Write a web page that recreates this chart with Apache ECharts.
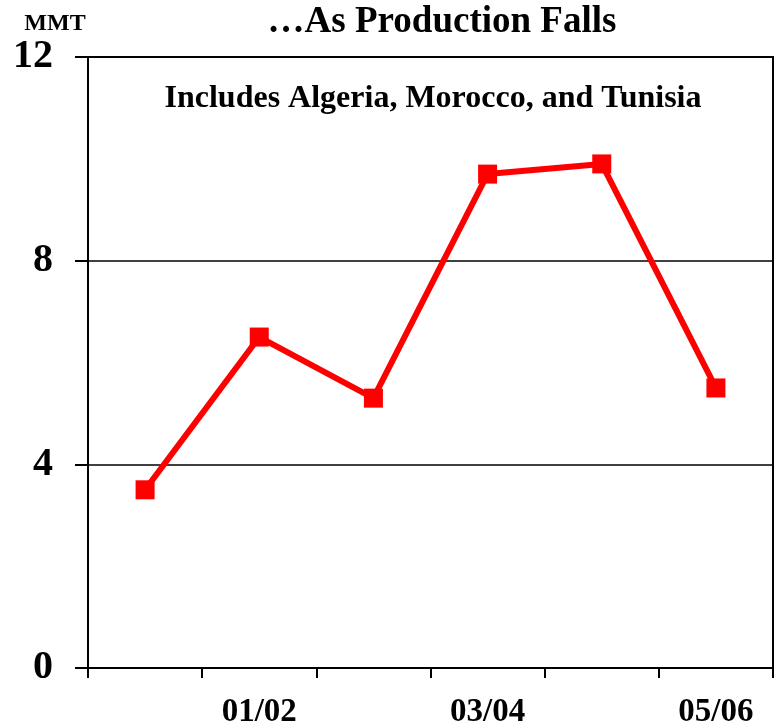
<!DOCTYPE html>
<html>
<head>
<meta charset="utf-8">
<script src="https://cdn.jsdelivr.net/npm/echarts@6/dist/echarts.min.js"></script>
<style>html,body{margin:0;padding:0;background:#fff}#c{width:777px;height:723px}</style>
</head>
<body>
<div id="c"></div>
<script>
var categories = ['00/01', '01/02', '02/03', '03/04', '04/05', '05/06'];
var production = [3.5, 6.5, 5.3, 9.7, 9.9, 5.5];
var yTicks = [0, 4, 8, 12];
var titleText = '\u2026As Production Falls';
var noteText = 'Includes Algeria, Morocco, and Tunisia';
var unitText = 'MMT';

var FONT = '"Liberation Serif", "Times New Roman", serif';
var chart = echarts.init(document.getElementById('c'));
chart.setOption({
  animation: false,
  backgroundColor: '#fff',
  title: [
    { text: titleText, left: 437, top: -1, textAlign: 'center',
      textStyle: { fontFamily: FONT, fontWeight: 'bold', fontSize: 37, color: '#000' } },
    { text: noteText, left: 428, top: 78, textAlign: 'center',
      textStyle: { fontFamily: FONT, fontWeight: 'bold', fontSize: 32, color: '#000' } },
    { text: unitText, left: 50, top: 7, textAlign: 'center',
      textStyle: { fontFamily: FONT, fontWeight: 'bold', fontSize: 24, color: '#000' } }
  ],
  grid: { left: 88, right: 4, top: 57, bottom: 55, outerBoundsMode: 'none', containLabel: false,
          show: true, borderColor: '#000', borderWidth: 2, backgroundColor: 'transparent' },
  xAxis: {
    type: 'category',
    data: categories,
    boundaryGap: true,
    axisLine: { lineStyle: { color: '#000', width: 2 } },
    axisTick: { show: true, interval: 0, length: 10, lineStyle: { color: '#000', width: 2 } },
    axisLabel: {
      interval: function (i) { return i % 2 === 1; },
      margin: 28, color: '#000', fontFamily: FONT, fontWeight: 'bold', fontSize: 33
    },
    splitLine: { show: false }
  },
  yAxis: {
    type: 'value',
    min: yTicks[0], max: yTicks[yTicks.length - 1], interval: 4,
    axisLine: { show: true, lineStyle: { color: '#000', width: 2 } },
    axisTick: { show: true, length: 13, lineStyle: { color: '#000', width: 2 } },
    axisLabel: { margin: 35, color: '#000', fontFamily: FONT, fontWeight: 'bold', fontSize: 40 },
    splitLine: { show: true, lineStyle: { color: '#000', width: 1.5 } }
  },
  series: [{
    type: 'line',
    data: production,
    symbol: 'rect',
    symbolSize: 19,
    lineStyle: { color: '#ff0000', width: 6 },
    itemStyle: { color: '#ff0000' }
  }]
});
</script>
</body>
</html>
